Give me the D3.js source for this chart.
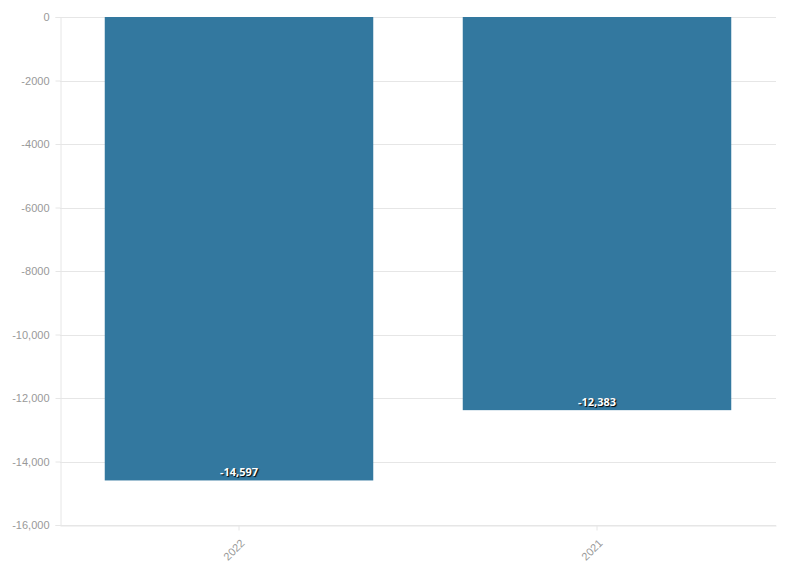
<!DOCTYPE html>
<html>
<head>
<meta charset="utf-8">
<script src="https://cdn.jsdelivr.net/npm/d3@7"></script>
<style>
  html, body { margin: 0; padding: 0; background: #fff; }
  svg { display: block; font-family: "Open Sans", "Noto Sans", sans-serif; }
</style>
</head>
<body>
<svg id="chart" width="796" height="575"></svg>
<script>
const categories = ["2022", "2021"];
const values = [-14597, -12383];
const yTicks = [0, -2000, -4000, -6000, -8000, -10000, -12000, -14000, -16000];

const svg = d3.select("#chart");
const margin = { left: 60, right: 20, top: 17, bottom: 50 };
const W = 796, H = 575;

const x = d3.scaleBand().domain(categories)
  .range([margin.left, W - margin.right]).paddingInner(0.25).paddingOuter(0.125);
const y = d3.scaleLinear().domain([-16000, 0]).range([H - margin.bottom, margin.top]);

const fmt = v => Math.abs(v) >= 10000 ? d3.format(",")(v).replace("−", "-") : String(v);

// gridlines
svg.append("g").selectAll("line").data(yTicks).join("line")
  .attr("x1", margin.left).attr("x2", W - margin.right)
  .attr("y1", d => Math.round(y(d)) + 0.5).attr("y2", d => Math.round(y(d)) + 0.5)
  .attr("stroke", "#e6e6e6").attr("stroke-width", 1);

// y axis
const yAxis = d3.axisLeft(y).tickValues(yTicks).tickSize(5).tickPadding(6).tickFormat(fmt);
const gy = svg.append("g").attr("transform", `translate(${margin.left + 0.5},0)`).call(yAxis);
gy.select(".domain").attr("stroke", "#e6e6e6");
gy.selectAll(".tick line").attr("stroke", "#e6e6e6");
gy.selectAll(".tick text").attr("fill", "#999").style("font-size", "11px");

// bars
svg.append("g").selectAll("rect").data(values).join("rect")
  .attr("x", (d, i) => x(categories[i]))
  .attr("width", x.bandwidth())
  .attr("y", y(0))
  .attr("height", d => y(d) - y(0))
  .attr("fill", "#33789f");

// x axis
const xAxis = d3.axisBottom(x).tickSize(5).tickSizeOuter(0);
const gx = svg.append("g").attr("transform", `translate(0,${H - margin.bottom + 0.5})`).call(xAxis);
gx.select(".domain").attr("stroke", "#e6e6e6");
gx.selectAll(".tick line").attr("stroke", "#e6e6e6");
gx.selectAll(".tick text").attr("fill", "#999").style("font-size", "11px")
  .attr("text-anchor", "end").attr("dy", "0.35em")
  .attr("transform", "translate(-2,10) rotate(-45)");

// value labels
svg.append("g").selectAll("text").data(values).join("text")
  .attr("x", (d, i) => x(categories[i]) + x.bandwidth() / 2)
  .attr("y", d => y(d) - 4)
  .attr("text-anchor", "middle")
  .attr("fill", "#fff")
  .style("font-size", "11px").style("font-weight", "bold")
  .style("text-shadow", "1px 1px 1px #000")
  .text(d => d3.format(",")(d).replace("−", "-"));
</script>
</body>
</html>
